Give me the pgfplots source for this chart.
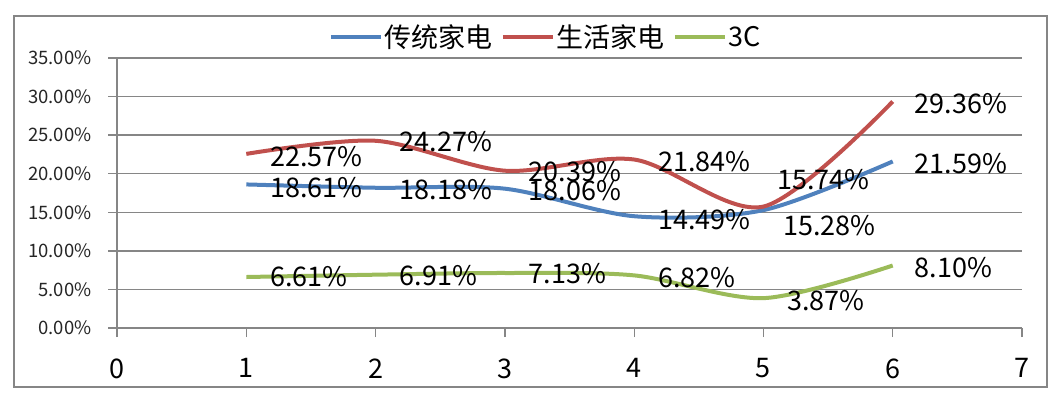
\documentclass[border=0pt]{standalone}
\usepackage{fontspec}
\setmainfont{Noto Sans CJK SC}
\usepackage{pgfplots}
\usepackage{pgfplotstable}
\pgfplotsset{compat=1.18}
\definecolor{cBlue}{HTML}{4F81BD}
\definecolor{cRed}{HTML}{C0504D}
\definecolor{cGreen}{HTML}{9BBB59}
\definecolor{cGrid}{HTML}{868686}

\pgfplotstableread{
x y dx dy
1 18.61 22 -3
2 18.18 22 -2
3 18.06 22 -2
4 14.49 22 -3
5 15.28 18 -15
6 21.59 20 -2
}\tblBlue
\pgfplotstableread{
x y dx dy
1 22.57 22 -3
2 24.27 22 -1
3 20.39 22 -1
4 21.84 22 -2
5 15.74 12 27
6 29.36 20 -2
}\tblRed
\pgfplotstableread{
x y dx dy
1 6.61 22 0
2 6.91 22 -1
3 7.13 22 -1
4 6.82 22 -2
5 3.87 22 -2
6 8.10 20 -2
}\tblGreen

\begin{document}
\begin{tikzpicture}[x=1bp,y=1bp]
\path (0,0) rectangle (1061,398);
\draw[cGrid, line width=2.5bp] (14,11) rectangle (1047,382);
\begin{axis}[
  at={(117bp,70bp)}, anchor=south west,
  scale only axis, width=905bp, height=270bp,
  xmin=0, xmax=7, ymin=0, ymax=35,
  xtick={0,1,...,7}, ytick={0,5,...,35},
  axis x line*=bottom, axis y line*=left,
  axis line style={cGrid, line width=1.3bp, -},
  tick style={cGrid, line width=1.3bp},
  tick align=outside, major tick length=9bp,
  ymajorgrids, grid style={cGrid, line width=1.3bp},
  /pgf/number format/assume math mode=true,
  yticklabel={\pgfmathprintnumber[fixed,zerofill,precision=2,assume math mode=true]{\tick}\%},
  yticklabel style={font=\fontsize{18.5bp}{22bp}\selectfont, text=black!85, xshift=-13bp},
  xticklabel style={font=\fontsize{27bp}{30bp}\selectfont, text=black, yshift=-18bp},
  legend style={draw=none, fill=none, at={(0.474,1.078)}, anchor=center,
    legend columns=-1, font=\fontsize{27bp}{30bp}\selectfont,
    /tikz/every even column/.append style={column sep=6bp},
    inner sep=0pt},
  legend image code/.code={\draw[#1, line width=4bp] (0bp,0bp) -- (50bp,0bp);},
  nodes near coords={\pgfmathprintnumber[fixed,zerofill,precision=2,assume math mode=true]{\pgfplotspointmeta}\%},
  point meta=y,
  visualization depends on={\thisrow{dx} \as \dx},
  visualization depends on={\thisrow{dy} \as \dy},
  every node near coord/.append style={anchor=west, inner sep=0pt,
    xshift=\dx bp, yshift=\dy bp, text=black,
    font=\fontsize{27bp}{30bp}\selectfont},
]
\addplot[cBlue, line width=4bp, smooth, tension=0.5] table[x=x,y=y] {\tblBlue};
\addlegendentry{传统家电}
\addplot[cRed, line width=4bp, smooth, tension=0.5] table[x=x,y=y] {\tblRed};
\addlegendentry{生活家电}
\addplot[cGreen, line width=4bp, smooth, tension=0.5] table[x=x,y=y] {\tblGreen};
\addlegendentry{3C}
\end{axis}
\end{tikzpicture}
\end{document}
